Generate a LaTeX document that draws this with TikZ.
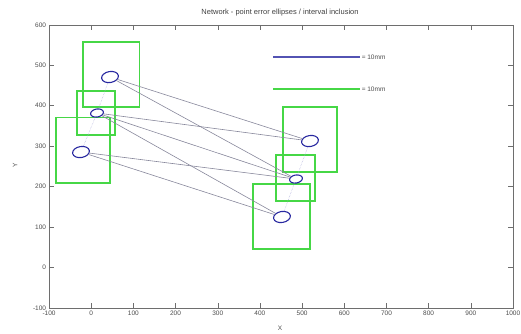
\documentclass[tikz,border=0pt]{standalone}
\usepackage{fontspec}
\setmainfont{Liberation Sans}
\usetikzlibrary{shapes.geometric}

\definecolor{ellblue}{RGB}{40,40,160}
\definecolor{boxgreen}{RGB}{70,215,70}
\definecolor{obsgray}{RGB}{135,135,155}
\definecolor{framegray}{RGB}{110,110,110}

\tikzset{
  errell/.style={ellipse, draw=ellblue, line width=1.1pt, inner sep=0pt,
    minimum width=17pt, minimum height=11pt, rotate=10},
  smallell/.style={errell, minimum width=13pt, minimum height=8pt},
  intbox/.style={draw=boxgreen, line width=1.2pt},
  obsline/.style={draw=obsgray, line width=0.6pt},
  tieline/.style={draw=ellblue!40, line width=0.5pt, densely dotted},
  ticklabel/.style={font=\fontsize{6.5}{7.5}\selectfont, text=black!70, inner sep=1.5pt},
}

\begin{document}
\begin{tikzpicture}[x=0.4218pt, y=0.4043pt]
  \useasboundingbox (-216.2,-162.3) rectangle (1019.0,661.4);

  % Axes
  \draw[framegray, line width=0.6pt] (-100,-100) rectangle (1000,600);
  \foreach \t [count=\i] in {-100,0,100,200,300,400,500,600,700,800,900,1000} {
    \draw[framegray] (\t,-100) -- ++(0,12);
    \draw[framegray] (\t,600) -- ++(0,-12);
    \node[ticklabel, anchor=north] (xt\i) at (\t,-104) {\t};
  }
  \foreach \t [count=\i] in {-100,0,100,200,300,400,500,600} {
    \draw[framegray] (-100,\t) -- ++(12,0);
    \draw[framegray] (1000,\t) -- ++(-12,0);
    \node[ticklabel, anchor=east] (yt\i) at (-103,\t) {\t};
  }
  \node[ticklabel] (xlab) at (447.6,-150) {X};
  \node[ticklabel, rotate=90] (ylab) at (-180.2,253.3) {Y};
  \node[font=\fontsize{7.5}{9}\selectfont, text=black!75] (title) at (447.6,629.2)
    {Network - point error ellipses / interval inclusion};

  % Interval boxes
  \draw[intbox] (-19.4,396.7) rectangle (114.5,557.5);
  \draw[intbox] (-33.7,327.5) rectangle (56.4,436.3);
  \draw[intbox] (-83.5,208.8) rectangle (44.6,370.8);
  \draw[intbox] (454.7,236.0) rectangle (582.7,396.7);
  \draw[intbox] (438.1,164.2) rectangle (530.6,278.0);
  \draw[intbox] (383.6,45.5) rectangle (518.7,206.3);

  % Left points
  \node[errell] (p1) at (44.6, 470.9) {};
  \node[smallell] (p2) at (13.8, 381.9) {};
  \node[errell] (p3) at (-24.2, 285.4) {};

  % Right points
  \node[errell] (p4) at (518.7, 312.6) {};
  \node[smallell] (p5) at (485.5, 218.6) {};
  \node[errell] (p6) at (452.3, 124.7) {};

  % Observations
  \draw[obsline] (p1) -- (p4);
  \draw[obsline] (p1) -- (p5);
  \draw[obsline] (p2) -- (p4);
  \draw[obsline] (p2) -- (p5);
  \draw[obsline] (p2) -- (p6);
  \draw[obsline] (p3) -- (p5);
  \draw[obsline] (p3) -- (p6);

  \draw[tieline] (p1) -- (p2);
  \draw[tieline] (p2) -- (p3);
  \draw[tieline] (p4) -- (p5);
  \draw[tieline] (p5) -- (p6);

  % Legend
  \coordinate (leg1a) at (431.2,520.4);
  \coordinate (leg1b) at (637.5,520.4);
  \coordinate (leg2a) at (431.2,441.3);
  \coordinate (leg2b) at (637.5,441.3);
  \draw[ellblue!80, line width=1.4pt] (leg1a) -- (leg1b);
  \draw[boxgreen, line width=1.4pt] (leg2a) -- (leg2b);
  \node[ticklabel, anchor=west] (leg1) at (leg1b) {= 10mm};
  \node[ticklabel, anchor=west] (leg2) at (leg2b) {= 10mm};
\end{tikzpicture}
\end{document}
